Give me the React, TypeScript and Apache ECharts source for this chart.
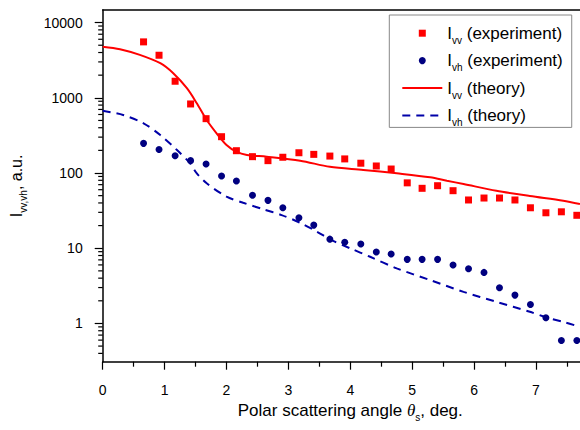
import React, { useEffect, useRef } from 'react';
import * as echarts from 'echarts';

// Experimental angles (deg) shared by both measured series
const expAngles = [0.66, 0.91, 1.17, 1.42, 1.67, 1.92, 2.16, 2.42, 2.67, 2.91, 3.17, 3.41, 3.67, 3.91, 4.17, 4.42, 4.66, 4.92, 5.16, 5.41, 5.66, 5.91, 6.16, 6.41, 6.66, 6.91, 7.16, 7.41, 7.66];
const vvExp = [5540, 3680, 1660, 828, 528, 304, 198, 165, 146, 162, 186, 177, 168, 154, 135, 124, 113, 74, 62.6, 67.8, 58.2, 43.8, 46.5, 46.5, 43.8, 34.5, 29.6, 30.5, 27.4];
const vhExp = [248, 205, 170, 146, 132, 91.3, 78.3, 50.5, 43.3, 34.5, 25.4, 20.3, 13.2, 12.0, 11.4, 8.89, 8.36, 7.11, 7.11, 7.11, 5.97, 5.33, 4.77, 2.98, 2.38, 1.79, 1.19, 0.594, 0.594];

// Theory curves
const vvTheoryX = [0, 0.28, 0.6, 0.93, 1.14, 1.36, 1.52, 1.68, 1.84, 2.0, 2.16, 2.33, 2.65, 3.19, 3.67, 4.21, 4.75, 5.29, 5.56, 5.83, 6.36, 6.9, 7.44, 7.71];
const vvTheoryY = [4780, 4430, 3720, 2880, 2120, 1340, 846, 507, 337, 236, 192, 174, 165, 146, 121, 110, 99, 87.7, 79, 71.4, 58.2, 49.5, 42.8, 38.7];
const vhTheoryX = [0, 0.33, 0.66, 0.93, 1.2, 1.41, 1.52, 1.68, 2.0, 2.27, 2.59, 2.89, 3.19, 3.46, 3.73, 4.0, 4.32, 4.75, 5.29, 5.83, 6.36, 6.9, 7.17, 7.44, 7.71];
const vhTheoryY = [672, 591, 458, 320, 202, 135, 99, 73, 48.5, 40.2, 33, 27.6, 21.8, 16.6, 12.4, 9.96, 7.7, 5.4, 3.77, 2.63, 1.94, 1.43, 1.2, 1.05, 0.9];

// Axis settings
const xMin = 0;
const xMax = 8;
const yMin = 0.31;
const yMax = 14700;
const minorDecades = [0.1, 1, 10, 100, 1000];
const minorMultipliers = [2, 3, 4, 5, 6, 7, 8, 9];

const FONT = '"Liberation Sans", Arial, Helvetica, sans-serif';
const RED = '#ff0000';
const NAVY = '#000080';
const BLUE = '#0000a8';

// square legend icon centred in a 40x7 box (degenerate sub-paths widen the bounds)
const SQUARE_ICON = 'path://M0,3.5L0,3.5M16.5,0L23.5,0L23.5,7L16.5,7ZM40,3.5L40,3.5';

const legendLabels: Record<string, string> = {
  vvExp: '{i|I}{s|vv}{t| (experiment)}',
  vhExp: '{i|I}{s|vh}{t| (experiment)}',
  vvTh: '{i|I}{s|vv}{t| (theory)}',
  vhTh: '{i|I}{s|vh}{t| (theory)}',
};

function buildMinorTicks() {
  const out: number[][] = [];
  minorDecades.forEach((d) => {
    minorMultipliers.forEach((m) => {
      const v = d * m;
      if (v >= yMin && v <= yMax) out.push([0, v]);
    });
  });
  return out;
}

export default function App() {
  const ref = useRef<HTMLDivElement>(null);
  useEffect(() => {
    if (!ref.current) return;
    const chart = echarts.init(ref.current, null, { renderer: 'svg' });
    const richBig = (size: number) => ({
      i: { fontSize: size, fontFamily: FONT, color: '#000', lineHeight: 24 },
      t: { fontSize: size, fontFamily: FONT, color: '#000', lineHeight: 24 },
      th: { fontSize: size, fontFamily: '"Liberation Serif", "Times New Roman", serif', fontStyle: 'italic', color: '#000', lineHeight: 24 },
      s: { fontSize: 10, fontFamily: FONT, color: '#000', verticalAlign: 'top', padding: [14, 0, 0, 0] },
    });
    const option: any = {
      animation: false,
      backgroundColor: '#fff',
      grid: { left: 102.7, top: 10, right: -17.9, bottom: 68.3, outerBoundsMode: 'none', containLabel: false },
      legend: {
        data: [
          { name: 'vvExp', icon: SQUARE_ICON },
          { name: 'vhExp', icon: 'circle' },
          { name: 'vvTh', itemStyle: { opacity: 0 } },
          { name: 'vhTh', itemStyle: { opacity: 0 } },
        ],
        orient: 'vertical',
        left: 389.3,
        top: 15,
        padding: [9.7, 9, 0, 12],
        itemGap: 6.9,
        itemWidth: 40,
        itemHeight: 7,
        symbolKeepAspect: true,
        borderColor: '#888',
        borderWidth: 1,
        backgroundColor: '#fff',
        selectedMode: false,
        formatter: (name: string) => legendLabels[name],
        textStyle: { rich: richBig(17) },
      },
      xAxis: [
        {
          type: 'value',
          min: xMin,
          max: xMax,
          interval: 1,
          name: 'Polar scattering angle {th|θ}{s|s}{t|, deg.}',
          nameLocation: 'middle',
          nameGap: 37,
          nameTextStyle: { fontSize: 17, fontFamily: FONT, color: '#000', rich: richBig(17) },
          axisLine: { show: true, lineStyle: { color: '#000', width: 1.5 } },
          axisTick: { show: true, inside: false, length: 8, lineStyle: { color: '#000', width: 1.2 } },
          minorTick: { show: true, splitNumber: 2, length: 5, lineStyle: { color: '#000', width: 1.2 } },
          axisLabel: { fontSize: 14, fontFamily: FONT, color: '#000', margin: 21, showMaxLabel: false, formatter: (v: number) => String(Math.round(v)) },
          splitLine: { show: false },
        },
        {
          type: 'value',
          position: 'top',
          min: xMin,
          max: xMax,
          axisLine: { show: true, lineStyle: { color: '#000', width: 1.5 } },
          axisTick: { show: false },
          axisLabel: { show: false },
          splitLine: { show: false },
        },
      ],
      yAxis: {
        type: 'log',
        logBase: 10,
        min: yMin,
        max: yMax,
        name: '{i|I}{s|vv,vh}{t|, a.u.}',
        nameLocation: 'middle',
        nameGap: 74,
        nameTextStyle: { fontSize: 16, fontFamily: FONT, color: '#000', rich: richBig(16) },
        axisLine: { show: true, lineStyle: { color: '#000', width: 1.5 } },
        axisTick: { show: true, inside: false, length: 8, lineStyle: { color: '#000', width: 1.2 } },
        axisLabel: {
          fontSize: 14,
          fontFamily: FONT,
          color: '#000',
          margin: 20,
          showMinLabel: false,
          showMaxLabel: false,
          formatter: (v: number) => String(Math.round(v)),
        },
        splitLine: { show: false },
      },
      series: [
        {
          name: 'vvTh',
          type: 'line',
          data: vvTheoryX.map((x, i) => [x, vvTheoryY[i]]),
          showSymbol: false,
          symbol: 'none',
          smooth: 0.3,
          lineStyle: { color: RED, width: 2 },
          itemStyle: { color: RED },
          z: 2,
        },
        {
          name: 'vhTh',
          type: 'line',
          data: vhTheoryX.map((x, i) => [x, vhTheoryY[i]]),
          showSymbol: false,
          symbol: 'none',
          smooth: 0.3,
          lineStyle: { color: BLUE, width: 2, type: [8, 6] },
          itemStyle: { color: BLUE },
          z: 2,
        },
        {
          name: 'vvExp',
          type: 'scatter',
          symbol: 'rect',
          symbolSize: 7,
          data: expAngles.map((x, i) => [x, vvExp[i]]),
          itemStyle: { color: RED, opacity: 1 },
          z: 3,
        },
        {
          name: 'vhExp',
          type: 'scatter',
          symbol: 'circle',
          symbolSize: 7,
          data: expAngles.map((x, i) => [x, vhExp[i]]),
          itemStyle: { color: NAVY, opacity: 1 },
          z: 3,
        },
        {
          name: 'minorTicks',
          type: 'custom',
          silent: true,
          clip: false,
          data: buildMinorTicks(),
          renderItem: (params: any, api: any) => {
            const p = api.coord([api.value(0), api.value(1)]);
            return {
              type: 'line',
              shape: { x1: p[0] - 4.5, y1: p[1], x2: p[0], y2: p[1] },
              style: { stroke: '#000', lineWidth: 1.2 },
            };
          },
          z: 5,
        },
      ],
    };
    chart.setOption(option);
    return () => chart.dispose();
  }, []);
  return <div ref={ref} style={{ position: 'fixed', left: 0, top: 0, width: 580, height: 430 }} />;
}
